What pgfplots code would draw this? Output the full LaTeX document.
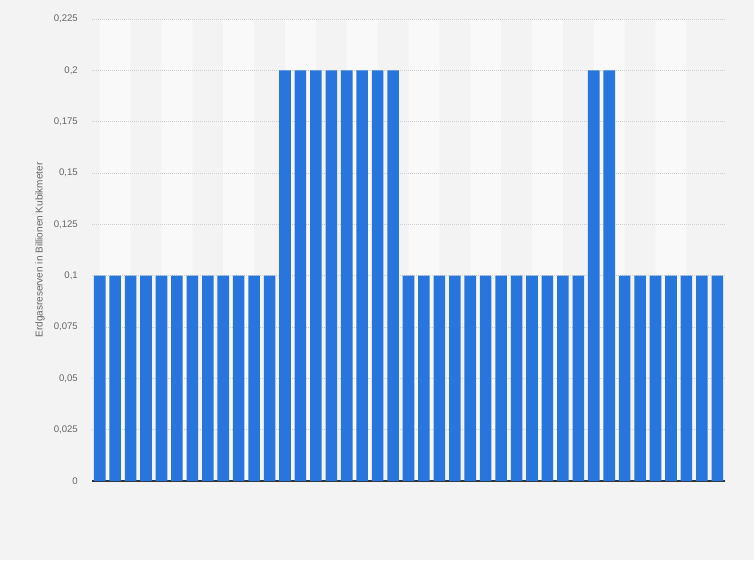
\documentclass[border=0pt]{standalone}
\usepackage{fontspec}
\setmainfont{Liberation Sans}
\usepackage{xcolor}
\usepackage{pgfplots}
\pgfplotsset{compat=1.18}

\definecolor{pagebg}{HTML}{F3F3F3}
\definecolor{band}{HTML}{F9F9F9}
\definecolor{barblue}{HTML}{2876DD}
\definecolor{gridgray}{HTML}{CFCFCF}
\definecolor{textgray}{HTML}{666666}
\pagecolor{pagebg}

\begin{document}
\begin{tikzpicture}
% page frame, 754 x 560
\path (-92pt,-79pt) rectangle (662pt,481pt);
\begin{axis}[
    set layers,
    scale only axis,
    width=633pt, height=462pt,
    xmin=-0.5, xmax=40.5,
    ymin=0, ymax=0.225,
    xtick=\empty,
    ytick={0,0.025,0.05,0.075,0.1,0.125,0.15,0.175,0.2,0.225},
    ymajorgrids,
    major grid style={gridgray, line width=0.8pt, dash pattern=on 1pt off 1pt},
    axis x line*=bottom, axis y line*=left,
    y axis line style={draw=none},
    x axis line style={-, draw=black!80, line width=1.4pt},
    major tick length=0pt,
    yticklabel style={font=\fontsize{9.6}{11}\selectfont, text=textgray,
        inner sep=0pt, xshift=-14pt,
        /pgf/number format/use comma,
        /pgf/number format/fixed,
        /pgf/number format/precision=3,
        /pgf/number format/assume math mode=true},
    ylabel={Erdgasreserven in Billionen Kubikmeter},
    ylabel style={font=\fontsize{10}{12}\selectfont, text=textgray,
        at={(axis description cs:-0.0822,0.5)}, anchor=center},
]
% alternating column bands
\addplot[on layer=axis background, ybar, bar width=2, bar shift=0pt,
    fill=band, draw=none] coordinates {
    (1,0.225) (5,0.225) (9,0.225) (13,0.225) (17,0.225)
    (21,0.225) (25,0.225) (29,0.225) (33,0.225) (37,0.225)};

\addplot[ybar, bar width=0.75, bar shift=0pt, fill=barblue, draw=none] coordinates {
    (0,0.1) (1,0.1) (2,0.1) (3,0.1) (4,0.1) (5,0.1) (6,0.1) (7,0.1)
    (8,0.1) (9,0.1) (10,0.1) (11,0.1)
    (12,0.2) (13,0.2) (14,0.2) (15,0.2) (16,0.2) (17,0.2) (18,0.2) (19,0.2)
    (20,0.1) (21,0.1) (22,0.1) (23,0.1) (24,0.1) (25,0.1) (26,0.1) (27,0.1)
    (28,0.1) (29,0.1) (30,0.1) (31,0.1)
    (32,0.2) (33,0.2)
    (34,0.1) (35,0.1) (36,0.1) (37,0.1) (38,0.1) (39,0.1) (40,0.1)};
\end{axis}
\end{tikzpicture}
\end{document}
